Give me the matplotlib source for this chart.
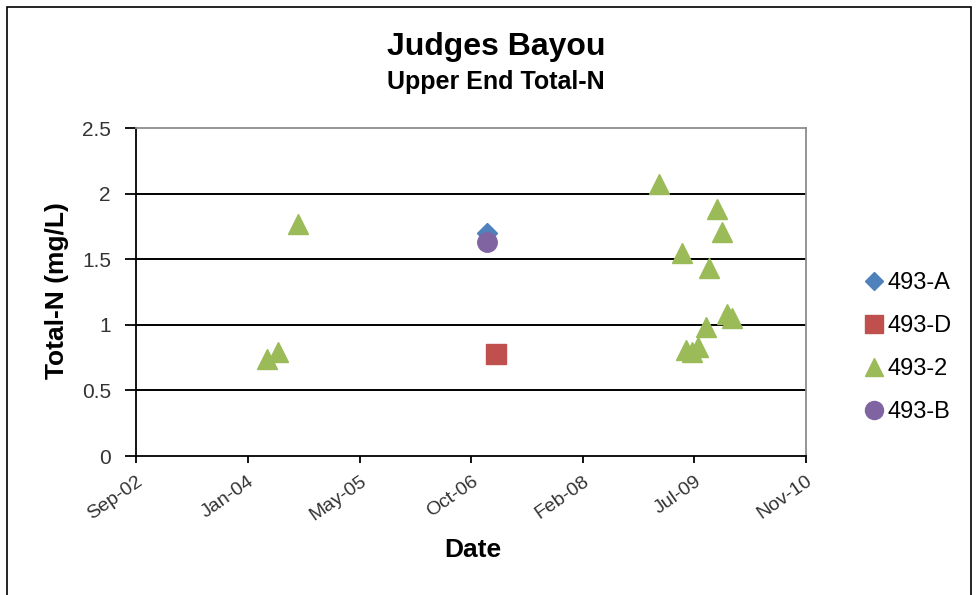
import numpy as np
import matplotlib.pyplot as plt
import matplotlib.dates as mdates
from matplotlib.patches import Rectangle
from matplotlib.lines import Line2D

plt.rcParams['font.family'] = ['Liberation Sans', 'DejaVu Sans']

# Total-N (mg/L) by station, sample dates
dates_A = ['2006-12-22']
tn_A = [1.70]

dates_D = ['2007-02-01']
tn_D = [0.78]

dates_2 = ['2004-04-10', '2004-05-28', '2004-08-25', '2009-01-29', '2009-05-11',
           '2009-05-30', '2009-06-24', '2009-07-24', '2009-08-26', '2009-09-10',
           '2009-10-14', '2009-11-06', '2009-11-28', '2009-12-20']
tn_2 = [0.74, 0.79, 1.77, 2.07, 1.55,
        0.81, 0.79, 0.83, 0.98, 1.43,
        1.88, 1.71, 1.08, 1.05]

dates_B = ['2006-12-22']
tn_B = [1.63]

x_ticks = ['2002-09-02', '2004-01-15', '2005-05-30', '2006-10-12',
           '2008-02-24', '2009-07-06', '2010-11-18']
y_ticks = [0, 0.5, 1, 1.5, 2, 2.5]
y_labels = ['0', '0.5', '1', '1.5', '2', '2.5']

W, H = 977, 595
fig = plt.figure(figsize=(W / 100, H / 100), dpi=100)
fig.patch.set_facecolor('white')

# outer chart border
fig.add_artist(Rectangle((7 / W, -0.05), (971 - 7) / W, 1 - 7 / H + 0.05,
                         transform=fig.transFigure, fill=False,
                         edgecolor='black', lw=1.2))

ax = fig.add_axes([136 / W, 1 - 456 / H, (806 - 136) / W, (456 - 128) / H])

def d(lst):
    return np.array(lst, dtype='datetime64[D]')

# gridlines
for yv in y_ticks[1:-1]:
    ax.axhline(yv, color='black', lw=1.4, zorder=1)

ax.plot(d(dates_A), tn_A, ls='none', marker='D', ms=10, color='#4F81BD', zorder=3)
ax.plot(d(dates_D), tn_D, ls='none', marker='s', ms=14, color='#C0504D', zorder=3)
ax.plot(d(dates_2), tn_2, ls='none', marker='^', ms=14.5, color='#9BBB59', zorder=3)
ax.plot(d(dates_B), tn_B, ls='none', marker='o', ms=14, color='#8064A2', zorder=3)

xt = d(x_ticks)
ax.set_xlim(xt[0], xt[-1])
ax.set_ylim(0, 2.5)
ax.set_xticks(xt)
ax.xaxis.set_major_formatter(mdates.DateFormatter('%b-%y'))
ax.set_yticks(y_ticks)
ax.set_yticklabels(y_labels)

for sp in ['left', 'bottom']:
    ax.spines[sp].set_color('black')
    ax.spines[sp].set_linewidth(1.3)
for sp in ['top', 'right']:
    ax.spines[sp].set_color('#8c8c8c')
    ax.spines[sp].set_linewidth(1.3)

ax.tick_params(axis='y', direction='out', length=8, width=1.3, labelsize=15,
               labelcolor='#333333', pad=10)
ax.tick_params(axis='x', direction='out', length=5, width=1.3, labelsize=14,
               labelcolor='#333333', pad=7)
for lab in ax.get_xticklabels():
    lab.set_rotation(35)
    lab.set_ha('right')
    lab.set_va('top')
    lab.set_rotation_mode('anchor')

fig.text(57 / W, 1 - 291 / H, 'Total-N (mg/L)', rotation=90, ha='center',
         va='center', fontsize=19, fontweight='bold')
fig.text(473 / W, 1 - 550 / H, 'Date', ha='center', va='center',
         fontsize=19, fontweight='bold')

fig.text(496 / W, 1 - 47 / H, 'Judges Bayou', ha='center', va='center',
         fontsize=23, fontweight='bold')
fig.text(496 / W, 1 - 82 / H, 'Upper End Total-N', ha='center', va='center',
         fontsize=18, fontweight='bold')

handles = [
    Line2D([], [], ls='none', marker='D', ms=9, color='#4F81BD'),
    Line2D([], [], ls='none', marker='s', ms=13, color='#C0504D'),
    Line2D([], [], ls='none', marker='^', ms=13, color='#9BBB59'),
    Line2D([], [], ls='none', marker='o', ms=13, color='#8064A2'),
]
fig.legend(handles, ['493-A', '493-D', '493-2', '493-B'],
           loc='upper left', bbox_to_anchor=(865 / W, 1 - 272 / H),
           frameon=False, fontsize=17, handlelength=0.8, handletextpad=0.15,
           labelspacing=0.89, borderpad=0, borderaxespad=0)

fig.savefig('out.png', dpi=100)
